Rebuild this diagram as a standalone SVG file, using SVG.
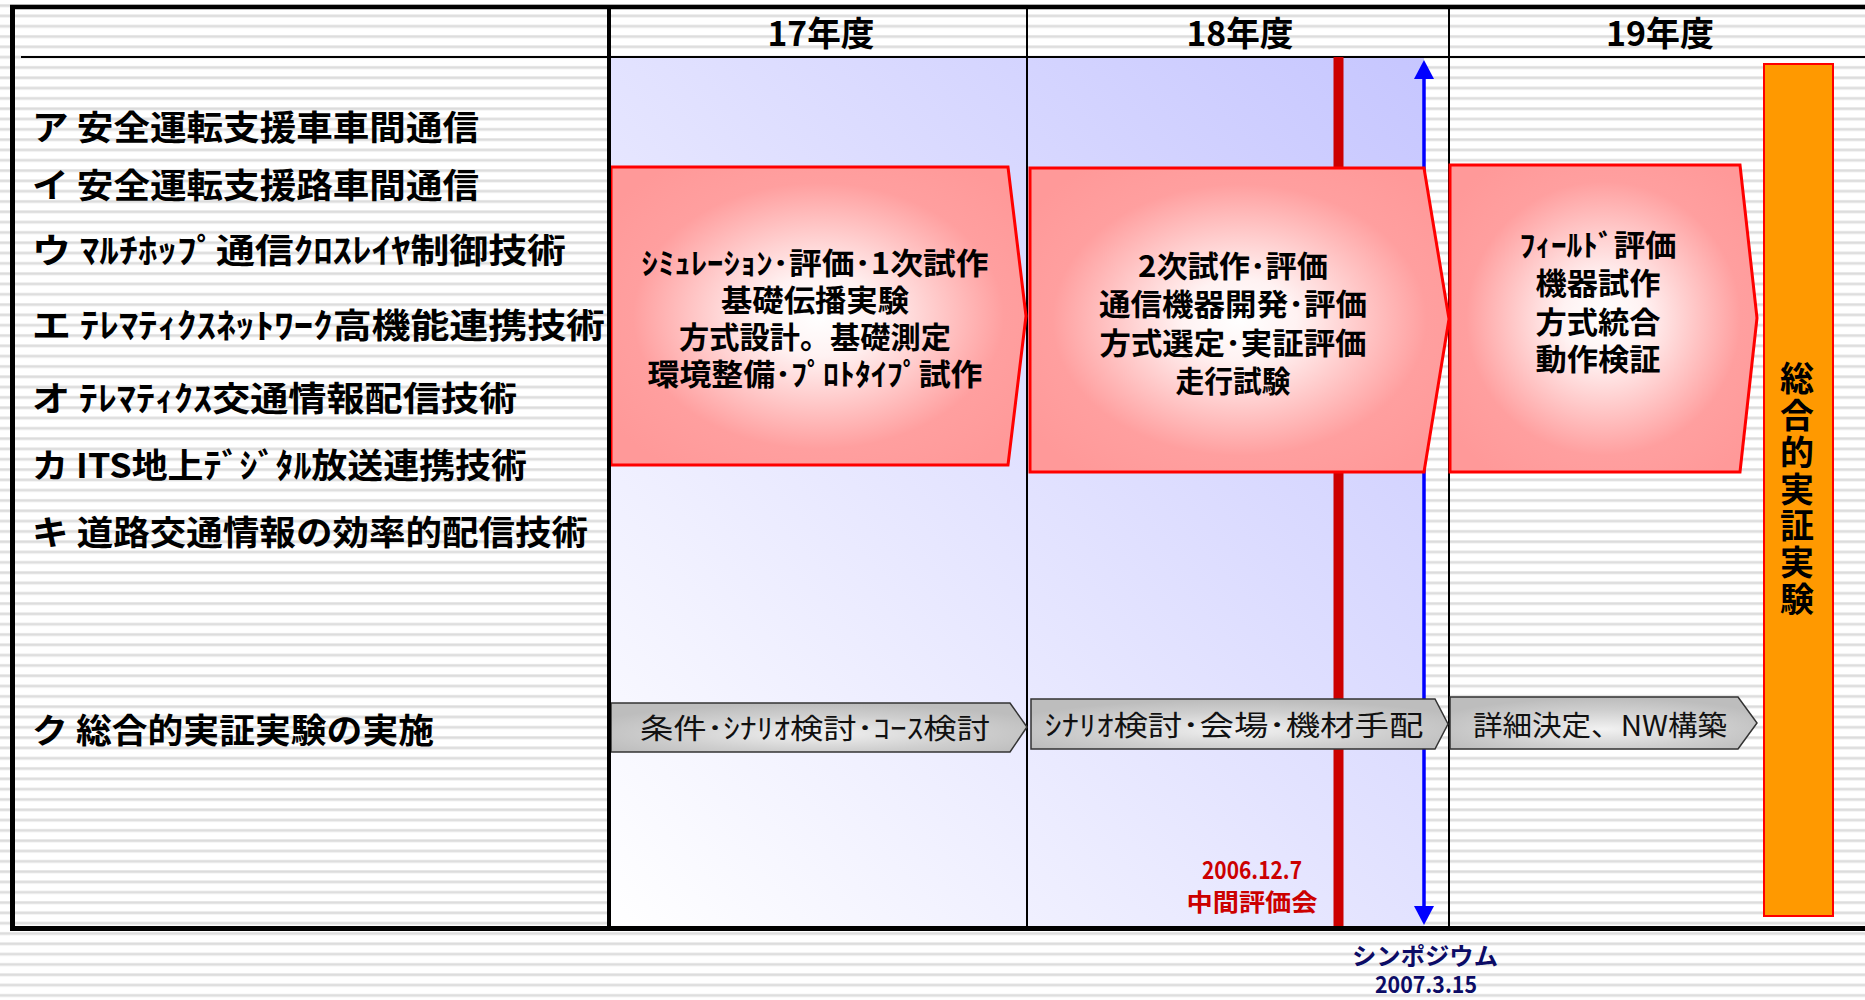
<svg xmlns="http://www.w3.org/2000/svg" width="1865" height="1000" viewBox="0 0 1865 1000">
  <defs>
    <pattern id="stripes" patternUnits="userSpaceOnUse" x="0" y="4" width="20" height="10.31">
      <rect x="0" y="0" width="20" height="10.31" fill="#ffffff"/>
      <rect x="0" y="0" width="20" height="3.2" fill="#e9e9e9"/>
      <rect x="0" y="0.8" width="20" height="1.6" fill="#dcdcdc"/>
    </pattern>
    <linearGradient id="blueBg" x1="0" y1="1" x2="1" y2="0">
      <stop offset="0" stop-color="#ffffff"/>
      <stop offset="1" stop-color="#c6c6ff"/>
    </linearGradient>
    <radialGradient id="pinkFill" cx="0.5" cy="0.5" r="0.62">
      <stop offset="0" stop-color="#ffffff"/>
      <stop offset="0.22" stop-color="#fff2f2"/>
      <stop offset="0.72" stop-color="#ff9f9f"/>
      <stop offset="1" stop-color="#ff9999"/>
    </radialGradient>
    <radialGradient id="grayFill" cx="0.5" cy="0.62" r="0.6">
      <stop offset="0" stop-color="#f2f2f2"/>
      <stop offset="0.6" stop-color="#cfcfcf"/>
      <stop offset="1" stop-color="#bdbdbd"/>
    </radialGradient>
    <style>
      .jp { font-family: "Noto Sans CJK JP", "Noto Sans", sans-serif; }
      .lbl { font-size: 34px; font-weight: bold; fill: #000; }
      .yr { font-size: 34px; font-weight: bold; fill: #000; text-anchor: middle; }
      .pk { font-size: 30px; font-weight: bold; fill: #000; text-anchor: middle; }
      .gy { font-size: 28px; font-weight: normal; fill: #111; text-anchor: middle; }
      .pink { fill: url(#pinkFill); stroke: #ff0000; stroke-width: 3; stroke-linejoin: miter; }
      .chev { fill: url(#grayFill); stroke: #333333; stroke-width: 1.5; }
      .rule { stroke: #000; fill: none; }
    </style>
  </defs>

  <!-- background -->
  <rect x="0" y="0" width="1865" height="1000" fill="url(#stripes)"/>
  <rect x="609" y="57" width="815" height="871" fill="url(#blueBg)"/>

  <!-- grid lines -->
  <g id="grid">
    <line class="rule" x1="21" y1="57" x2="1865" y2="57" stroke-width="2"/>
    <line class="rule" x1="1027" y1="7" x2="1027" y2="928" stroke-width="2"/>
    <line class="rule" x1="1449" y1="7" x2="1449" y2="928" stroke-width="2"/>
  </g>

  <!-- year headers -->
  <g id="years" class="jp">
    <text class="yr" x="821" y="46" textLength="107" lengthAdjust="spacingAndGlyphs">17年度</text>
    <text class="yr" x="1240" y="46" textLength="107" lengthAdjust="spacingAndGlyphs">18年度</text>
    <text class="yr" x="1660" y="46" textLength="108" lengthAdjust="spacingAndGlyphs">19年度</text>
  </g>

  <!-- row labels -->
  <g id="labels" class="jp">
    <text class="lbl" x="32" y="140" textLength="447" lengthAdjust="spacingAndGlyphs">ア 安全運転支援車車間通信</text>
    <text class="lbl" x="32" y="198" textLength="447" lengthAdjust="spacingAndGlyphs">イ 安全運転支援路車間通信</text>
    <text class="lbl" x="32" y="263" textLength="534" lengthAdjust="spacingAndGlyphs">ウ ﾏﾙﾁﾎｯﾌﾟ通信ｸﾛｽﾚｲﾔ制御技術</text>
    <text class="lbl" x="32" y="338" textLength="573" lengthAdjust="spacingAndGlyphs">エ ﾃﾚﾏﾃｨｸｽﾈｯﾄﾜｰｸ高機能連携技術</text>
    <text class="lbl" x="32" y="411" textLength="485" lengthAdjust="spacingAndGlyphs">オ ﾃﾚﾏﾃｨｸｽ交通情報配信技術</text>
    <text class="lbl" x="32" y="478" textLength="495" lengthAdjust="spacingAndGlyphs">カ ITS地上ﾃﾞｼﾞﾀﾙ放送連携技術</text>
    <text class="lbl" x="32" y="545" textLength="556" lengthAdjust="spacingAndGlyphs">キ 道路交通情報の効率的配信技術</text>
    <text class="lbl" x="32" y="743" textLength="402" lengthAdjust="spacingAndGlyphs">ク 総合的実証実験の実施</text>
  </g>

  <!-- milestone connectors -->
  <g id="connectors">
    <line x1="1338.5" y1="57" x2="1338.5" y2="928" stroke="#cc0000" stroke-width="10"/>
    <line x1="1424" y1="79" x2="1424" y2="906" stroke="#0000ff" stroke-width="3.5"/>
    <path d="M1414,79 L1424,60 L1434,79 Z" fill="#0000ff"/>
    <path d="M1414,906 L1424,925 L1434,906 Z" fill="#0000ff"/>
  </g>

  <!-- phase arrows -->
  <g id="phase17">
    <polygon class="pink" points="611,167 1008,167 1026,316 1008,465 611,465"/>
    <text class="jp pk" x="815" y="274" textLength="347" lengthAdjust="spacingAndGlyphs">ｼﾐｭﾚｰｼｮﾝ･評価･1次試作</text>
    <text class="jp pk" x="815" y="311" textLength="188" lengthAdjust="spacingAndGlyphs">基礎伝播実験</text>
    <text class="jp pk" x="815" y="348" textLength="272" lengthAdjust="spacingAndGlyphs">方式設計。基礎測定</text>
    <text class="jp pk" x="815" y="385" textLength="335" lengthAdjust="spacingAndGlyphs">環境整備･ﾌﾟﾛﾄﾀｲﾌﾟ試作</text>
  </g>
  <g id="phase18">
    <polygon class="pink" points="1030,168 1424,168 1449,319 1424,472 1030,472"/>
    <text class="jp pk" x="1233" y="277" textLength="190" lengthAdjust="spacingAndGlyphs">2次試作･評価</text>
    <text class="jp pk" x="1233" y="315" textLength="268" lengthAdjust="spacingAndGlyphs">通信機器開発･評価</text>
    <text class="jp pk" x="1233" y="354" textLength="267" lengthAdjust="spacingAndGlyphs">方式選定･実証評価</text>
    <text class="jp pk" x="1233" y="392" textLength="115" lengthAdjust="spacingAndGlyphs">走行試験</text>
  </g>
  <g id="phase19">
    <polygon class="pink" points="1450,165 1740,165 1757,318 1740,472 1450,472"/>
    <text class="jp pk" x="1598" y="256" textLength="157" lengthAdjust="spacingAndGlyphs">ﾌｨｰﾙﾄﾞ評価</text>
    <text class="jp pk" x="1598" y="294" textLength="125" lengthAdjust="spacingAndGlyphs">機器試作</text>
    <text class="jp pk" x="1598" y="333" textLength="125" lengthAdjust="spacingAndGlyphs">方式統合</text>
    <text class="jp pk" x="1598" y="370" textLength="125" lengthAdjust="spacingAndGlyphs">動作検証</text>
  </g>

  <!-- demo experiment chevrons -->
  <g id="demo17">
    <polygon class="chev" points="611,703 1010,703 1027,727 1010,752 611,752"/>
    <text class="jp gy" x="815" y="739" textLength="350" lengthAdjust="spacingAndGlyphs">条件･ｼﾅﾘｵ検討･ｺｰｽ検討</text>
  </g>
  <g id="demo18">
    <polygon class="chev" points="1031,699 1435,699 1448,724 1435,749 1031,749"/>
    <text class="jp gy" x="1234" y="736" textLength="379" lengthAdjust="spacingAndGlyphs">ｼﾅﾘｵ検討･会場･機材手配</text>
  </g>
  <g id="demo19">
    <polygon class="chev" points="1450,697 1738,697 1757,723 1738,749 1450,749"/>
    <text class="jp gy" x="1600" y="736" textLength="254" lengthAdjust="spacingAndGlyphs">詳細決定、NW構築</text>
  </g>

  <!-- final experiment bar -->
  <g id="finalExperiment">
    <rect x="1764" y="64" width="69" height="852" fill="#ff9900" stroke="#ff0000" stroke-width="2"/>
    <text class="jp" x="1797" y="490" font-size="34" font-weight="bold" fill="#000" text-anchor="middle" writing-mode="vertical-rl" style="writing-mode: vertical-rl; letter-spacing: 2.7px;">総合的実証実験</text>
  </g>

  <!-- milestone labels -->
  <g id="midEval" class="jp" font-weight="bold" fill="#cc0000" text-anchor="middle">
    <text x="1252" y="879" font-size="24" textLength="100" lengthAdjust="spacingAndGlyphs">2006.12.7</text>
    <text x="1252" y="911" font-size="24" textLength="131" lengthAdjust="spacingAndGlyphs">中間評価会</text>
  </g>
  <g id="symposium" class="jp" font-weight="bold" fill="#0c0c66" text-anchor="middle">
    <text x="1425" y="965" font-size="24" textLength="146" lengthAdjust="spacingAndGlyphs">シンポジウム</text>
    <text x="1426" y="993" font-size="23" textLength="102" lengthAdjust="spacingAndGlyphs">2007.3.15</text>
  </g>

  <!-- frame -->
  <g id="frame">
    <line class="rule" x1="10" y1="7" x2="1865" y2="7" stroke-width="4.5"/>
    <line class="rule" x1="12.5" y1="5" x2="12.5" y2="931" stroke-width="5"/>
    <line class="rule" x1="10" y1="928.5" x2="1865" y2="928.5" stroke-width="5"/>
    <line class="rule" x1="609" y1="7" x2="609" y2="928" stroke-width="4"/>
  </g>
</svg>
